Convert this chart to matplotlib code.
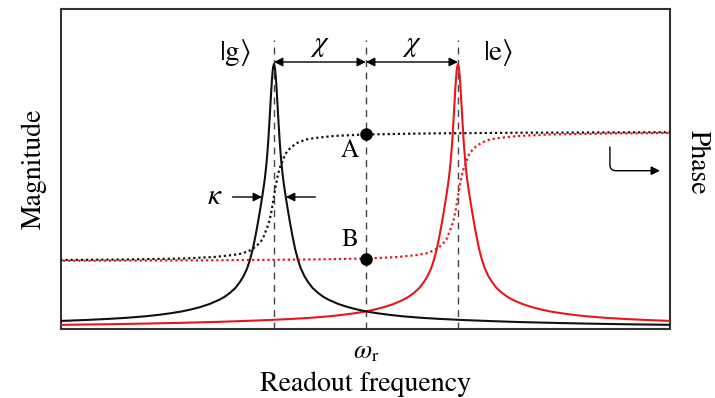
import matplotlib
matplotlib.use("Agg")
import matplotlib.pyplot as plt
import numpy as np

# ---- data (frequencies in units of chi, relative to omega_r) ----
peak_g = -1.0          # |g> resonance
peak_e = 1.0           # |e> resonance
marker_freq = 0.0      # omega_r (points A and B)

# lineshape: detuning from resonance (chi units) -> magnitude (a.u.)
mag_detuning = [0, 0.01, 0.02, 0.03, 0.04, 0.05, 0.06, 0.07, 0.08, 0.09, 0.1, 0.115,
                0.13, 0.15, 0.175, 0.2, 0.23, 0.26, 0.29, 0.33, 0.37, 0.42, 0.48,
                0.54, 0.6, 0.7, 0.8, 0.9, 1.0, 1.12, 1.25, 1.4, 1.6, 1.8, 2.05,
                2.33, 2.65, 3.0, 3.4, 3.85, 4.35]
mag_values = [265, 261.5, 252, 238, 222, 206, 191, 178, 167, 158, 150, 140,
              131, 119.5, 106, 93.5, 80, 69.5, 61, 53, 47, 41, 36,
              32, 29, 25, 22, 19.6, 17.6, 15.8, 14.2, 12.7, 11.2, 10.1, 9.0,
              8.0, 7.0, 6.2, 5.4, 4.7, 4.1]

# phase response: detuning -> phase (a.u., antisymmetric)
phase_detuning = [0, 0.022, 0.043, 0.065, 0.087, 0.12, 0.152, 0.196, 0.261, 0.348,
                  0.446, 0.652, 0.978, 1.63, 2.717, 4.35]
phase_values = [0, 12, 22, 29, 34, 42, 46, 50, 54, 57,
                58.5, 60.5, 62, 63, 63.8, 64.3]

point_labels = ["A", "B"]

# ---- build symmetric curves ----
md = np.array(mag_detuning); mv = np.array(mag_values)
d_full = np.concatenate([-md[::-1], md[1:]])
m_full = np.concatenate([mv[::-1], mv[1:]])
pd_ = np.array(phase_detuning); pv = np.array(phase_values)
p_d_full = np.concatenate([-pd_[::-1], pd_[1:]])
p_v_full = np.concatenate([-pv[::-1], pv[1:]])

plt.rcParams['font.family'] = 'STIXGeneral'
plt.rcParams['mathtext.fontset'] = 'stix'

fig = plt.figure(figsize=(7.15, 3.98), dpi=100)
ax = fig.add_axes([61/715, 69/398, 609/715, 320/398])
ax2 = ax.twinx()

RED = '#e8161b'
BLK = '#111111'

ax.set_xlim(-3.315, 3.305)
ax.set_ylim(0, 320)
ax2.set_ylim(-132.5, 187.5)

# dashed guides
for xv in (peak_g, marker_freq, peak_e):
    ax.plot([xv, xv], [0, 289], color='#444444', lw=1.0, ls=(0, (5, 4)), zorder=1)

# magnitude
ax.plot(d_full + peak_e, m_full, color=RED, lw=1.5, zorder=3)
ax.plot(d_full + peak_g, m_full, color=BLK, lw=1.5, zorder=4)

# phase
ax2.plot(p_d_full + peak_e, p_v_full, color=RED, lw=1.6, ls=(0, (1, 1.3)), zorder=3)
ax2.plot(p_d_full + peak_g, p_v_full, color=BLK, lw=1.6, ls=(0, (1, 1.3)), zorder=4)

# points A and B
phA = np.interp(marker_freq - peak_g, p_d_full, p_v_full)
phB = np.interp(marker_freq - peak_e, p_d_full, p_v_full)
ax2.plot([marker_freq, marker_freq], [phA, phB], 'o', color='black', ms=8, zorder=6, ls='none')
ax2.text(marker_freq - 0.18, phA - 17, point_labels[0], fontsize=18, ha='center', va='center')
ax2.text(marker_freq - 0.18, phB + 19, point_labels[1], fontsize=18, ha='center', va='center')

# chi arrows
ya = 267
arrkw = dict(arrowstyle='<|-|>', color='black', lw=1.0, mutation_scale=13, shrinkA=0, shrinkB=0)
ax.annotate('', xy=(peak_g, ya), xytext=(marker_freq, ya), arrowprops=arrkw)
ax.annotate('', xy=(marker_freq, ya), xytext=(peak_e, ya), arrowprops=arrkw)
ax.text((peak_g + marker_freq) / 2, 283, r'$\chi$', fontsize=21, ha='center', va='center')
ax.text((peak_e + marker_freq) / 2, 283, r'$\chi$', fontsize=21, ha='center', va='center')

# state labels
ax.text(-1.43, 276, r'$|\mathrm{g}\rangle$', fontsize=21, ha='center', va='center')
ax.text(1.435, 276, r'$|\mathrm{e}\rangle$', fontsize=21, ha='center', va='center')

# kappa arrows
ykap = 132
karr = dict(arrowstyle='-|>', color='black', lw=1.0, mutation_scale=13, shrinkA=0, shrinkB=0)
ax.annotate('', xy=(peak_g - 0.13, ykap), xytext=(peak_g - 0.45, ykap), arrowprops=karr)
ax.annotate('', xy=(peak_g + 0.13, ykap), xytext=(peak_g + 0.45, ykap), arrowprops=karr)
ax.text(-1.64, ykap, r'$\kappa$', fontsize=21, ha='center', va='center')

# bent arrow pointing to phase axis
ax.annotate('', xy=(3.196, 158.3), xytext=(2.652, 182),
            arrowprops=dict(arrowstyle='-|>', color='black', lw=1.0, mutation_scale=13,
                            shrinkA=0, shrinkB=0,
                            connectionstyle='angle,angleA=90,angleB=0,rad=6'))

# axes styling
ax.set_xticks([marker_freq])
ax.set_xticklabels([r'$\omega_\mathrm{r}$'], fontsize=19)
ax.tick_params(axis='x', length=0, pad=8)
ax.set_yticks([])
ax2.set_yticks([])
ax.set_xlabel('Readout frequency', fontsize=20, labelpad=5)
ax.set_ylabel('Magnitude', fontsize=20, labelpad=10)
ax2.set_ylabel('Phase', fontsize=20, rotation=270)
ax2.yaxis.set_label_coords(1.066, 0.52)
for sp in ax.spines.values():
    sp.set_color('#333333'); sp.set_linewidth(1.5)
for sp in ax2.spines.values():
    sp.set_visible(False)

fig.savefig('out.png', dpi=100)
